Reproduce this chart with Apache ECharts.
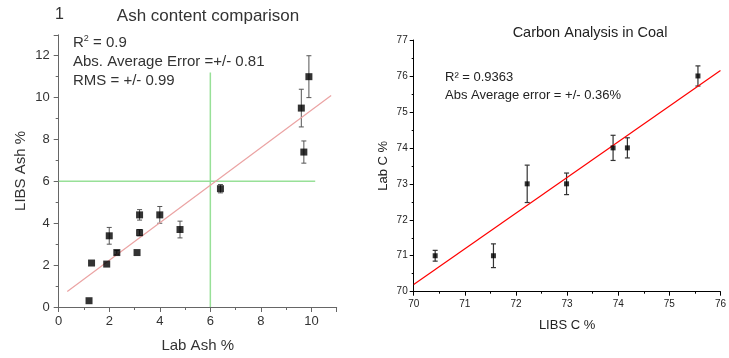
<!DOCTYPE html>
<html><head><meta charset="utf-8">
<script src="https://cdn.jsdelivr.net/npm/echarts@6/dist/echarts.min.js"></script>
<style>html,body{margin:0;padding:0;background:#fff}#c{width:729px;height:358px}</style>
</head><body><div id="c"></div>
<script>
// Left chart: Ash content comparison
const ashLab  = [1.2, 1.3, 1.9, 2.0, 2.3, 3.1, 3.2, 3.2, 4.0, 4.8, 6.4, 9.6, 9.7, 9.9];
const ashLibs = [0.3, 2.1, 2.05, 3.4, 2.6, 2.6, 4.4, 3.55, 4.4, 3.7, 5.65, 9.5, 7.4, 11.0];
const ashErr  = [0, 0, 0, 0.4, 0.1, 0, 0.25, 0.15, 0.4, 0.4, 0.2, 0.9, 0.53, 1.0];
const ashFitX = [0.34, 10.78];
const ashFitY = [0.74, 10.1];
const guideVx = [6, 6], guideVy = [0, 11.2];
const guideHx = [0, 10.15], guideHy = [6, 6];
// Right chart: Carbon Analysis in Coal
const carbLibs = [70.42, 71.56, 72.22, 72.99, 73.9, 74.18, 75.56];
const carbLab  = [71.0, 71.0, 73.0, 73.0, 74.0, 74.0, 76.0];
const carbErr  = [0.15, 0.33, 0.52, 0.3, 0.35, 0.28, 0.28];
const carbFitX = [70, 76];
const carbFitY = [70.2, 76.15];

const zip2 = (a, b) => a.map((v, i) => [v, b[i]]);
const zip3 = (a, b, c) => a.map((v, i) => [v, b[i], c[i]]);

function errRender(cap, color, lw) {
  return function (params, api) {
    const x = api.value(0), y = api.value(1), e = api.value(2);
    if (!e) return null;
    const t = api.coord([x, y + e]), b = api.coord([x, y - e]);
    const st = { stroke: color, lineWidth: lw };
    return { type: 'group', children: [
      { type: 'line', shape: { x1: t[0], y1: t[1], x2: b[0], y2: b[1] }, style: st },
      { type: 'line', shape: { x1: t[0] - cap, y1: t[1], x2: t[0] + cap, y2: t[1] }, style: st },
      { type: 'line', shape: { x1: b[0] - cap, y1: b[1], x2: b[0] + cap, y2: b[1] }, style: st }
    ]};
  };
}

const F = 'Liberation Sans, Arial, sans-serif';
const chart = echarts.init(document.getElementById('c'), null, { renderer: 'canvas' });
const lAx = { lineStyle: { color: '#666', width: 1 } };
const rAx = { lineStyle: { color: '#000', width: 1 } };

chart.setOption({
  animation: false,
  textStyle: { fontFamily: F },
  title: [
    { text: 'Ash content comparison', left: 203, top: 3, textAlign: 'center',
      textStyle: { fontFamily: F, fontSize: 17, fontWeight: 'normal', color: '#333' } },
    { text: '1', left: 50, top: 2,
      textStyle: { fontFamily: F, fontSize: 16, fontWeight: 'normal', color: '#333' } },
    { text: 'Carbon Analysis in Coal', left: 585, top: 20, textAlign: 'center',
      textStyle: { fontFamily: F, fontSize: 14.5, fontWeight: 'normal', color: '#222' } }
  ],
  graphic: [
    { type: 'text', left: 73, top: 34, style: {
      text: '{a|R}{s|2}{a| = 0.9}',
      rich: { a: { fontFamily: F, fontSize: 15, fill: '#333' }, s: { fontFamily: F, fontSize: 9, fill: '#333', verticalAlign: 'top', padding: [0, 0, 8, 0] } } } },
    { type: 'text', left: 73, top: 54, style: { text: 'Abs. Average Error =+/- 0.81', font: '15px ' + F, fill: '#333' } },
    { type: 'text', left: 73, top: 73, style: { text: 'RMS = +/- 0.99', font: '15px ' + F, fill: '#333' } },
    { type: 'text', left: 445, top: 71, style: { text: 'R² = 0.9363', font: '13px ' + F, fill: '#222' } },
    { type: 'text', left: 445, top: 89, style: { text: 'Abs Average error = +/- 0.36%', font: '13px ' + F, fill: '#222' } }
  ],
  grid: [
    { left: 58.7, top: 34.8, width: 278, height: 275.2 },
    { left: 413.7, top: 40, width: 307.3, height: 251.7 }
  ],
  xAxis: [
    { gridIndex: 0, type: 'value', min: 0, max: 11, interval: 2,
      name: 'Lab Ash %', nameLocation: 'middle', nameGap: 31,
      nameTextStyle: { fontFamily: F, fontSize: 15, color: '#333' },
      axisLine: lAx, axisTick: { show: true, length: 5, lineStyle: { color: '#666' } },
      minorTick: { show: true, splitNumber: 2, length: 3, lineStyle: { color: '#666' } },
      splitLine: { show: false },
      axisLabel: { fontFamily: F, fontSize: 13, color: '#333', margin: 8, formatter: v => (v % 2 === 0 ? String(v) : '') } },
    { gridIndex: 1, type: 'value', min: 70, max: 76, interval: 1,
      name: 'LIBS C %', nameLocation: 'middle', nameGap: 27,
      nameTextStyle: { fontFamily: F, fontSize: 13, color: '#222' },
      axisLine: rAx, axisTick: { show: true, length: 4, lineStyle: { color: '#000' } },
      minorTick: { show: true, splitNumber: 2, length: 2, lineStyle: { color: '#000' } },
      splitLine: { show: false },
      axisLabel: { fontFamily: F, fontSize: 10, color: '#222', margin: 8 } }
  ],
  yAxis: [
    { gridIndex: 0, type: 'value', min: 0, max: 13, interval: 2,
      name: 'LIBS Ash %', nameLocation: 'middle', nameGap: 30,
      nameTextStyle: { fontFamily: F, fontSize: 15, color: '#333' },
      axisLine: Object.assign({ show: true }, lAx), axisTick: { show: true, length: 5, lineStyle: { color: '#666' } },
      minorTick: { show: true, splitNumber: 2, length: 3, lineStyle: { color: '#666' } },
      splitLine: { show: false },
      axisLabel: { fontFamily: F, fontSize: 13, color: '#333', margin: 9, formatter: v => (v % 2 === 0 ? String(v) : '') } },
    { gridIndex: 1, type: 'value', min: 70, max: 77, interval: 1,
      name: 'Lab C %', nameLocation: 'middle', nameGap: 24,
      nameTextStyle: { fontFamily: F, fontSize: 13, color: '#222' },
      axisLine: Object.assign({ show: true }, rAx), axisTick: { show: true, length: 4, lineStyle: { color: '#000' } },
      minorTick: { show: true, splitNumber: 2, length: 2, lineStyle: { color: '#000' } },
      splitLine: { show: false },
      axisLabel: { fontFamily: F, fontSize: 10, color: '#222', margin: 6 } }
  ],
  series: [
    { type: 'line', xAxisIndex: 0, yAxisIndex: 0, data: zip2(guideVx, guideVy), symbol: 'none',
      lineStyle: { color: '#98e098', width: 1.5 }, silent: true },
    { type: 'line', xAxisIndex: 0, yAxisIndex: 0, data: zip2(guideHx, guideHy), symbol: 'none',
      lineStyle: { color: '#98e098', width: 1.5 }, silent: true },
    { type: 'line', xAxisIndex: 0, yAxisIndex: 0, data: zip2(ashFitX, ashFitY), symbol: 'none',
      lineStyle: { color: '#eba3a3', width: 1.2 }, silent: true },
    { type: 'custom', xAxisIndex: 0, yAxisIndex: 0, data: zip3(ashLab, ashLibs, ashErr),
      renderItem: errRender(2.5, '#555', 1), z: 3 },
    { type: 'scatter', xAxisIndex: 0, yAxisIndex: 0, data: zip2(ashLab, ashLibs),
      symbol: 'rect', symbolSize: 7, itemStyle: { color: '#000' }, z: 4 },

    { type: 'line', xAxisIndex: 1, yAxisIndex: 1, data: zip2(carbFitX, carbFitY), symbol: 'none',
      lineStyle: { color: '#ff0000', width: 1.2 }, silent: true },
    { type: 'custom', xAxisIndex: 1, yAxisIndex: 1, data: zip3(carbLibs, carbLab, carbErr),
      renderItem: errRender(2.5, '#333', 1.2), z: 3 },
    { type: 'scatter', xAxisIndex: 1, yAxisIndex: 1, data: zip2(carbLibs, carbLab),
      symbol: 'rect', symbolSize: 5, itemStyle: { color: '#000' }, z: 4 }
  ]
});
</script></body></html>
